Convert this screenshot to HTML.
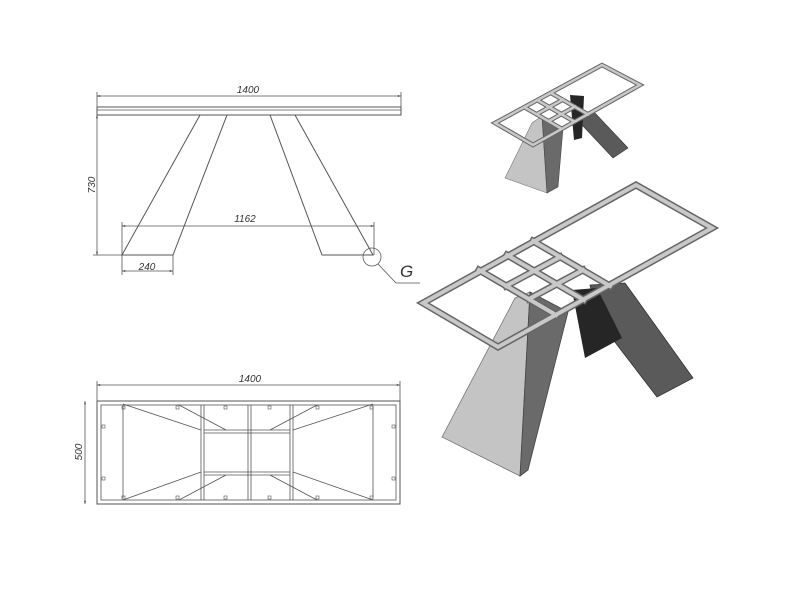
<!DOCTYPE html>
<html><head><style>
html,body{margin:0;padding:0;background:#fff;}
svg{display:block;}
text{font-family:"Liberation Sans",sans-serif;font-style:italic;fill:#333;}
</style></head><body>
<svg width="800" height="600" viewBox="0 0 800 600" xmlns="http://www.w3.org/2000/svg">
<defs>
<marker id="a" viewBox="0 0 10 10" refX="10" refY="5" markerWidth="6" markerHeight="4" orient="auto-start-reverse"><path d="M0,2 L10,5 L0,8z" fill="#444"/></marker>
</defs>
<g stroke="#555" stroke-width="0.8" fill="none">
<!-- elevation -->
<line x1="97" y1="96" x2="401" y2="96" marker-start="url(#a)" marker-end="url(#a)"/>
<line x1="97" y1="92" x2="97" y2="107"/><line x1="401" y1="92" x2="401" y2="107"/>
<rect x="97" y="107" width="304" height="8" stroke-width="1"/>
<line x1="97" y1="110" x2="401" y2="110"/>
<polygon points="200,115 227,115 173,255 122,255" stroke-width="1"/>
<polygon points="270,115 295,115 373,255 322,255" stroke-width="1"/>
<line x1="97" y1="115" x2="97" y2="255" marker-start="url(#a)" marker-end="url(#a)"/>
<line x1="93" y1="255" x2="130" y2="255"/>
<line x1="122" y1="226" x2="374" y2="226" marker-start="url(#a)" marker-end="url(#a)"/>
<line x1="122" y1="222" x2="122" y2="255"/><line x1="374" y1="222" x2="374" y2="255"/>
<line x1="122" y1="271" x2="173" y2="271" marker-start="url(#a)" marker-end="url(#a)"/>
<line x1="122" y1="255" x2="122" y2="275"/><line x1="173" y1="255" x2="173" y2="275"/>
<circle cx="372" cy="257" r="9"/>
<polyline points="378,264 396,283 420,283"/>
<!-- plan -->
<line x1="97" y1="385" x2="400" y2="385" marker-start="url(#a)" marker-end="url(#a)"/>
<line x1="97" y1="381" x2="97" y2="401"/><line x1="400" y1="381" x2="400" y2="401"/>
<line x1="85" y1="401" x2="85" y2="504" marker-start="url(#a)" marker-end="url(#a)"/>
<rect x="97" y="401" width="303" height="103" stroke-width="1"/>
<rect x="101" y="405" width="295" height="95"/>
<line x1="201" y1="405" x2="201" y2="500"/><line x1="204" y1="405" x2="204" y2="500"/>
<line x1="248" y1="405" x2="248" y2="500"/><line x1="251" y1="405" x2="251" y2="500"/>
<line x1="290" y1="405" x2="290" y2="500"/><line x1="293" y1="405" x2="293" y2="500"/>
<line x1="204" y1="430" x2="290" y2="430"/><line x1="204" y1="433" x2="290" y2="433"/>
<line x1="204" y1="472" x2="290" y2="472"/><line x1="204" y1="475" x2="290" y2="475"/>
<line x1="123" y1="404" x2="201" y2="430"/><line x1="123" y1="500" x2="201" y2="472"/>
<line x1="123" y1="406" x2="123" y2="498"/>
<line x1="179" y1="405" x2="226" y2="430"/><line x1="179" y1="500" x2="226" y2="475"/>
<line x1="373" y1="404" x2="293" y2="430"/><line x1="373" y1="500" x2="293" y2="472"/>
<line x1="373" y1="406" x2="373" y2="498"/>
<line x1="317" y1="405" x2="270" y2="430"/><line x1="317" y1="500" x2="270" y2="475"/>
<g stroke-width="0.6">
<rect x="122" y="406" width="3" height="3"/><rect x="176" y="406" width="3" height="3"/><rect x="224" y="406" width="3" height="3"/><rect x="268" y="406" width="3" height="3"/><rect x="316" y="406" width="3" height="3"/><rect x="370" y="406" width="3" height="3"/>
<rect x="122" y="496" width="3" height="3"/><rect x="176" y="496" width="3" height="3"/><rect x="224" y="496" width="3" height="3"/><rect x="268" y="496" width="3" height="3"/><rect x="316" y="496" width="3" height="3"/><rect x="370" y="496" width="3" height="3"/>
<rect x="102" y="425" width="3" height="3"/><rect x="102" y="477" width="3" height="3"/><rect x="392" y="425" width="3" height="3"/><rect x="392" y="477" width="3" height="3"/>
</g>
</g>
<text x="248" y="93" font-size="10" text-anchor="middle">1400</text>
<text x="245" y="222" font-size="10" text-anchor="middle">1162</text>
<text x="147" y="270" font-size="10" text-anchor="middle">240</text>
<text x="400" y="277" font-size="17">G</text>
<text transform="translate(95,185) rotate(-90)" font-size="10" text-anchor="middle">730</text>
<text x="250" y="382" font-size="10" text-anchor="middle">1400</text>
<text transform="translate(82,452) rotate(-90)" font-size="10" text-anchor="middle">500</text>

<!-- big 3D -->
<polygon points="590,285 625,283 693,378 657,397 598,320" fill="#5a5a5a" stroke="#333" stroke-width="0.8"/>
<polygon points="572,290 597,288 622,338 585,358" fill="#262626"/>
<polygon points="442,437 515,298 530,292 520,476" fill="#c4c4c4" stroke="#777" stroke-width="0.8"/>
<polygon points="530,292 568,312 528,470 520,476" fill="#6a6a6a" stroke="#444" stroke-width="0.8"/>
<g fill="none" stroke-linecap="square">
<g stroke="#666" stroke-width="7">
<polygon points="423,303 636,185 712,228 498,347"/>
<line x1="479" y1="270" x2="556" y2="315"/><line x1="533" y1="241" x2="610" y2="286"/>
<line x1="507" y1="255" x2="584" y2="300"/>
<line x1="506" y1="286" x2="560" y2="257"/><line x1="529" y1="299" x2="583" y2="270"/>
</g>
<g stroke="#c8c8c8" stroke-width="4">
<polygon points="423,303 636,185 712,228 498,347"/>
<line x1="479" y1="270" x2="556" y2="315"/><line x1="533" y1="241" x2="610" y2="286"/>
<line x1="507" y1="255" x2="584" y2="300"/>
<line x1="506" y1="286" x2="560" y2="257"/><line x1="529" y1="299" x2="583" y2="270"/>
</g>
</g>
<!-- small 3D -->
<polygon points="575,112 595,113 628,148 613,158 582,125" fill="#5a5a5a" stroke="#333" stroke-width="0.6"/>
<polygon points="570,95 584,96 582,138 574,140" fill="#262626"/>
<polygon points="505,178 532,123 542,116 547,193" fill="#c4c4c4" stroke="#777" stroke-width="0.6"/>
<polygon points="542,116 563,128 558,187 547,193" fill="#6a6a6a" stroke="#444" stroke-width="0.6"/>
<g fill="none">
<g stroke="#666" stroke-width="4.5">
<polygon points="495,123 602,65 640,85 533,145"/>
<line x1="524" y1="107" x2="562" y2="129"/><line x1="551" y1="93" x2="589" y2="115"/>
<line x1="537" y1="100" x2="575" y2="122"/>
<line x1="537" y1="114" x2="564" y2="99"/><line x1="549" y1="121" x2="576" y2="106"/>
</g>
<g stroke="#c8c8c8" stroke-width="2.5">
<polygon points="495,123 602,65 640,85 533,145"/>
<line x1="524" y1="107" x2="562" y2="129"/><line x1="551" y1="93" x2="589" y2="115"/>
<line x1="537" y1="100" x2="575" y2="122"/>
<line x1="537" y1="114" x2="564" y2="99"/><line x1="549" y1="121" x2="576" y2="106"/>
</g>
</g>
</svg>
</body></html>
